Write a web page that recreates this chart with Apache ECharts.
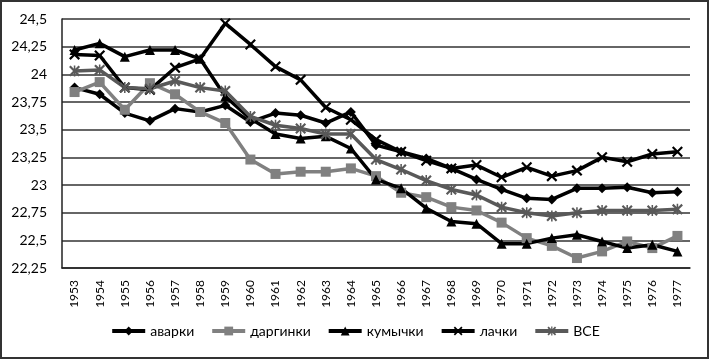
<!DOCTYPE html>
<html><head><meta charset="utf-8">
<script src="https://cdn.jsdelivr.net/npm/echarts@6/dist/echarts.min.js"></script>
<style>html,body{margin:0;padding:0;background:#fff}#c{width:710px;height:361px}</style>
</head><body><div id="c"></div>
<script>
var years = ['1953','1954','1955','1956','1957','1958','1959','1960','1961','1962','1963','1964','1965','1966','1967','1968','1969','1970','1971','1972','1973','1974','1975','1976','1977'];
var avarki   = [23.88,23.82,23.65,23.58,23.69,23.66,23.72,23.57,23.65,23.63,23.56,23.66,23.36,23.30,23.24,23.15,23.05,22.96,22.88,22.87,22.97,22.97,22.98,22.93,22.94];
var darginki = [23.84,23.93,23.68,23.92,23.82,23.66,23.56,23.23,23.10,23.12,23.12,23.15,23.08,22.93,22.89,22.80,22.77,22.66,22.52,22.45,22.34,22.40,22.49,22.43,22.54];
var kumychki = [24.22,24.28,24.16,24.22,24.22,24.14,23.80,23.60,23.46,23.42,23.44,23.33,23.05,22.97,22.79,22.67,22.65,22.47,22.47,22.52,22.55,22.49,22.43,22.46,22.40];
var lachki   = [24.18,24.17,23.88,23.86,24.06,24.14,24.46,24.27,24.07,23.95,23.70,23.59,23.41,23.30,23.22,23.15,23.18,23.07,23.16,23.08,23.13,23.25,23.21,23.28,23.30];
var vse      = [24.03,24.04,23.88,23.87,23.94,23.88,23.85,23.62,23.54,23.51,23.46,23.46,23.23,23.14,23.04,22.96,22.91,22.80,22.75,22.72,22.75,22.77,22.77,22.77,22.78];
var names = ['аварки','даргинки','кумычки','лачки','ВСЕ'];
var yMin = 22.25, yMax = 24.5, yStep = 0.25;

var xPath = 'path://M0,1.4L1.4,0L5,3.6L8.6,0L10,1.4L6.4,5L10,8.6L8.6,10L5,6.4L1.4,10L0,8.6L3.6,5Z';
var astPath = 'path://M0,1.4L1.4,0L5,3.6L8.6,0L10,1.4L6.4,5L10,8.6L8.6,10L5,6.4L1.4,10L0,8.6L3.6,5Z M4.3,0L5.7,0L5.7,10L4.3,10Z';

function mk(name, data, color, symbol, size) {
  return {
    name: name, type: 'line', data: data, symbol: symbol, symbolSize: size,
    lineStyle: {color: color, width: 3.5},
    itemStyle: {color: color},
    emphasis: {disabled: true}, animation: false
  };
}
var chart = echarts.init(document.getElementById('c'));
chart.setOption({
  animation: false,
  backgroundColor: '#fff',
  textStyle: {fontFamily: 'Lato'},
  graphic: [{type: 'rect', shape: {x: 1, y: 1, width: 707, height: 357}, style: {fill: 'none', stroke: '#333', lineWidth: 2}}],
  grid: {left: 62, right: 20, top: 19, bottom: 93},
  legend: {
    data: names, bottom: 18, left: 'center', itemWidth: 33, itemHeight: 11, itemGap: 16,
    lineStyle: {width: 4},
    textStyle: {fontSize: 14, color: '#000', fontFamily: 'Lato'}
  },
  xAxis: {
    type: 'category', data: years, boundaryGap: true,
    axisLine: {lineStyle: {color: '#222', width: 1.5}},
    axisTick: {show: false},
    axisLabel: {rotate: 90, fontSize: 12, color: '#000', margin: 12, interval: 0, fontFamily: 'Lato'}
  },
  yAxis: {
    type: 'value', min: yMin, max: yMax, interval: yStep,
    axisLine: {show: true, lineStyle: {color: '#222', width: 1.5}},
    axisTick: {show: false},
    splitLine: {lineStyle: {color: '#333', width: 1.5}},
    axisLabel: {fontSize: 14, color: '#000', margin: 15, fontFamily: 'Lato',
      formatter: function (v) { return String(Math.round(v * 100) / 100).replace('.', ','); }}
  },
  series: [
    mk(names[0], avarki, '#000', 'diamond', 10),
    mk(names[1], darginki, '#808080', 'rect', 10),
    mk(names[2], kumychki, '#000', 'triangle', 10),
    mk(names[3], lachki, '#000', xPath, 11),
    mk(names[4], vse, '#595959', astPath, 11)
  ]
});
</script></body></html>
